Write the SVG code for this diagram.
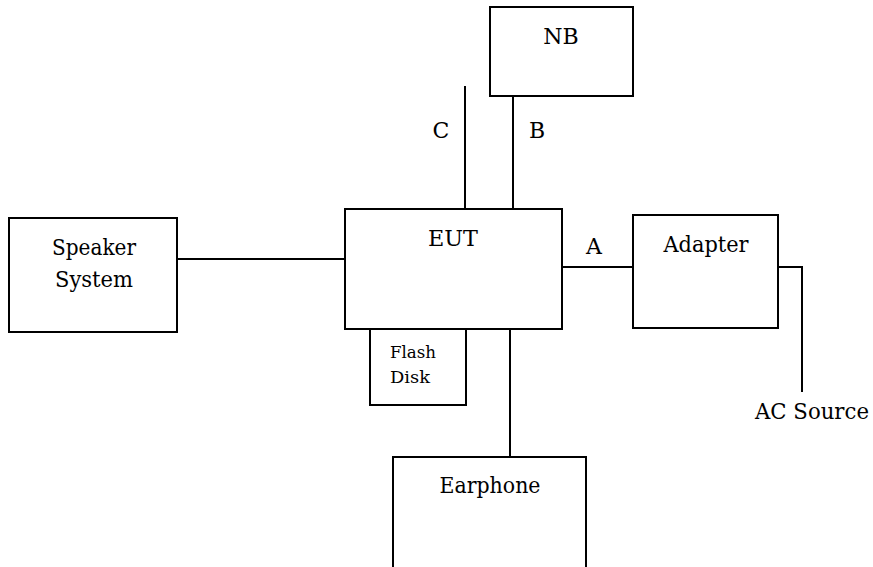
<svg xmlns="http://www.w3.org/2000/svg" width="873" height="567" viewBox="0 0 873 567">
<style>
.box{fill:#fff;stroke:#000;stroke-width:2}
.ln{fill:none;stroke:#000;stroke-width:2}
text{font-family:"DejaVu Serif",serif;font-size:22px;fill:#000}
.c{text-anchor:middle}
.s{font-size:17px}
</style>
<rect width="873" height="567" fill="#fff"/>
<g id="connectors">
<line class="ln" x1="465" y1="86" x2="465" y2="209"/>
<line class="ln" x1="513" y1="96" x2="513" y2="209"/>
<line class="ln" x1="177" y1="259" x2="345" y2="259"/>
<line class="ln" x1="562" y1="267" x2="633" y2="267"/>
<polyline class="ln" points="778,267 802,267 802,392"/>
<line class="ln" x1="510" y1="329" x2="510" y2="457"/>
<text class="c" x="441" y="138">C</text>
<text class="c" x="537" y="138">B</text>
<text class="c" x="594" y="254">A</text>
<text class="c" x="812" y="419" textLength="114" lengthAdjust="spacingAndGlyphs">AC Source</text>
</g>
<g id="nb">
<rect class="box" x="490" y="7" width="143" height="89"/>
<text class="c" x="561" y="44">NB</text>
</g>
<g id="speaker">
<rect class="box" x="9" y="218" width="168" height="114"/>
<text class="c" x="94" y="255" textLength="84" lengthAdjust="spacingAndGlyphs">Speaker</text>
<text class="c" x="94" y="287" textLength="78" lengthAdjust="spacingAndGlyphs">System</text>
</g>
<g id="eut">
<rect class="box" x="345" y="209" width="217" height="120"/>
<text class="c" x="453" y="246" textLength="50" lengthAdjust="spacingAndGlyphs">EUT</text>
</g>
<g id="adapter">
<rect class="box" x="633" y="215" width="145" height="113"/>
<text class="c" x="706" y="252" textLength="85" lengthAdjust="spacingAndGlyphs">Adapter</text>
</g>
<g id="flashdisk">
<rect class="box" x="370" y="329" width="96" height="76"/>
<text class="s" x="390" y="358" textLength="46" lengthAdjust="spacingAndGlyphs">Flash</text>
<text class="s" x="390" y="383" textLength="40" lengthAdjust="spacingAndGlyphs">Disk</text>
</g>
<g id="earphone">
<rect class="box" x="393" y="457" width="193" height="130"/>
<text class="c" x="490" y="493" textLength="101" lengthAdjust="spacingAndGlyphs">Earphone</text>
</g>
</svg>
